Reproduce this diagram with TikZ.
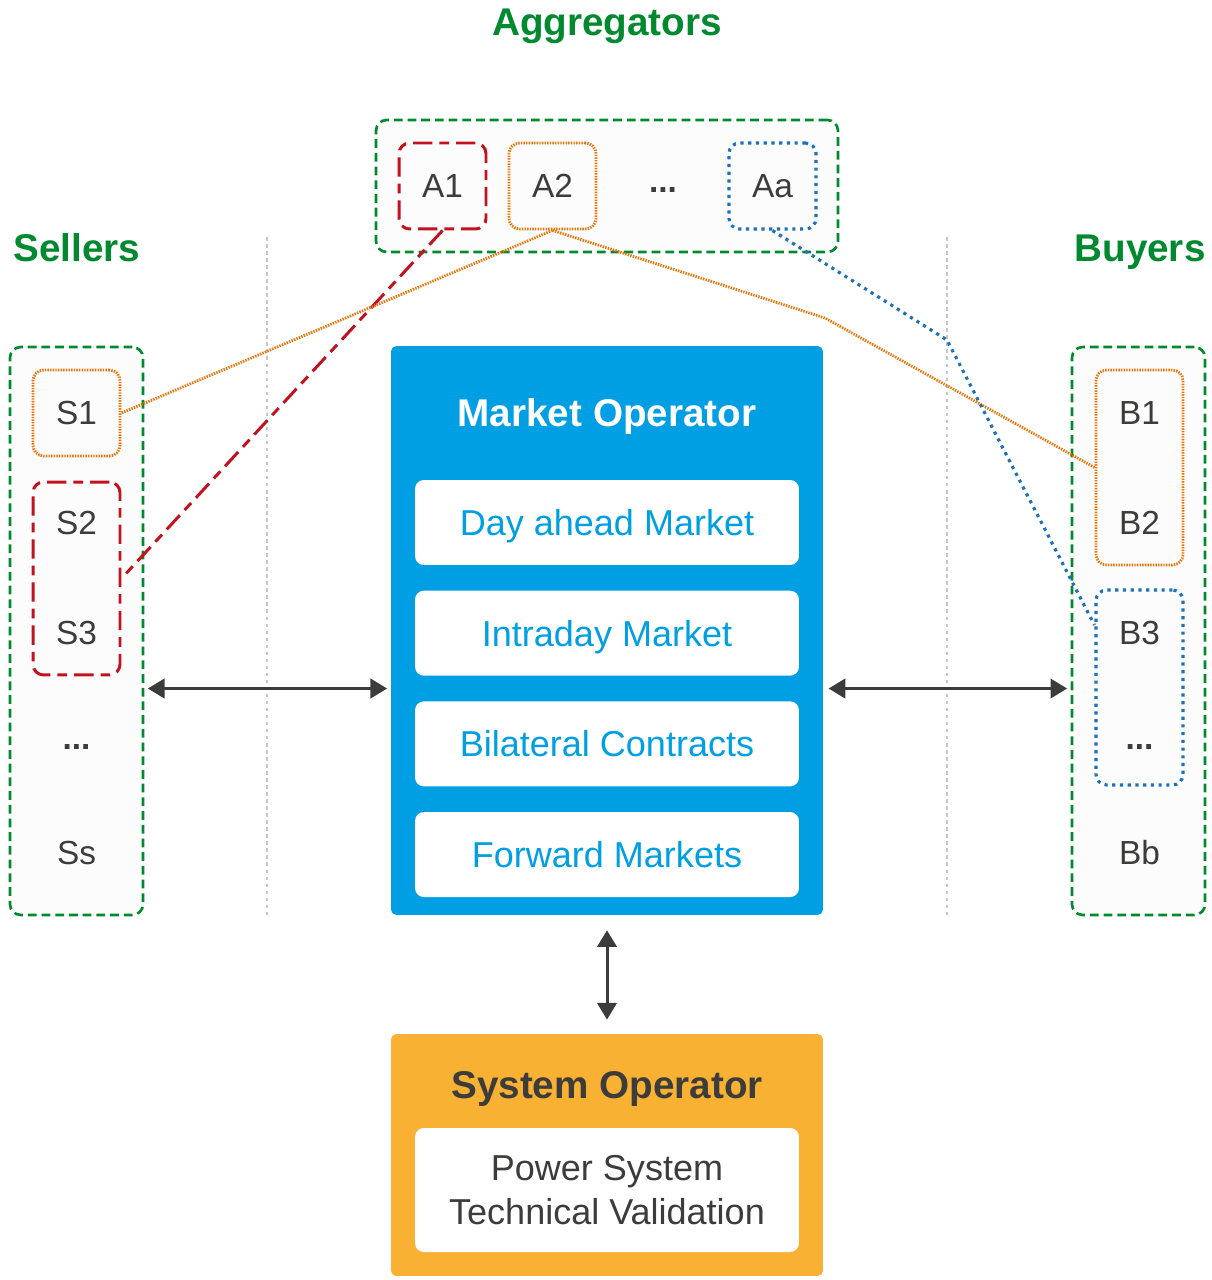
\documentclass[tikz,border=0pt]{standalone}
\usepackage{fontspec}
\setmainfont{Liberation Sans}
\usepackage{xcolor}
\usepackage{tikz}
\usetikzlibrary{
  arrows.meta,
  positioning,
  calc
}

\definecolor{partyGreen}{HTML}{00892F}
\definecolor{moBlue}{HTML}{009FE3}
\definecolor{soOrange}{HTML}{F8B133}
\definecolor{darkText}{HTML}{3C3C3B}
\definecolor{linkRed}{HTML}{C1121F}
\definecolor{linkOrange}{HTML}{EE7203}
\definecolor{linkBlue}{HTML}{1D71B8}

\begin{document}
\begin{tikzpicture}[
  x=0.02cm, y=-0.02cm,
  node distance=0.5cm,
  txt/.style={text=darkText, font=\fontsize{19}{23}\selectfont},
  heading/.style={text=partyGreen, font=\fontsize{22}{26}\selectfont\bfseries, text height=15.8pt, text depth=0pt},
  party/.style={draw=partyGreen, line width=1.5pt, dash pattern=on 5pt off 2.8pt, rounded corners=6pt, fill=gray!2},
  abox/.style={txt, minimum width=1.74cm, minimum height=1.72cm, rounded corners=6pt},
  redline/.style={draw=linkRed, line width=1.7pt, dash pattern=on 11pt off 4pt on 5.5pt off 4pt},
  orangeline/.style={draw=linkOrange, line width=1.6pt, dash pattern=on 0.8pt off 0.7pt},
  blueline/.style={draw=linkBlue, line width=1.8pt, dash pattern=on 1.8pt off 2.6pt},
  operator/.style={rectangle, rounded corners=3pt, minimum width=8.64cm},
  itembox/.style={rectangle, fill=white, rounded corners=5pt, minimum width=7.68cm, minimum height=1.7cm, text=moBlue, font=\fontsize{20.5}{25}\selectfont},
  mitem/.style={itembox, text height=14.7pt, text depth=0pt},
  optitle/.style={font=\fontsize{22}{26}\selectfont\bfseries, text height=15.8pt, text depth=0pt},
  guide/.style={draw=gray!45, line width=0.6pt, dash pattern=on 2pt off 2pt},
  biarrow/.style={draw=darkText, line width=1.7pt, {Triangle[length=9.5pt, width=11pt]}-{Triangle[length=9.5pt, width=11pt]}},
]
\useasboundingbox (0,0) rectangle (1212,1280);

\draw[guide] (267,237) -- (267,915);
\draw[guide] (947,237) -- (947,915);

% aggregators
\node[heading] (aggT) at (607,22) {Aggregators};
\node[party, minimum width=9.24cm, minimum height=2.64cm] (aggs) at (607,186) {};
\node[abox, redline] (A1) at (442.5,186) {A1};
\node[abox, orangeline] (A2) at (552.5,186) {A2};
\node[txt] (Adots) at (663,190) {\textbf{...}};
\node[abox, blueline] (Aa) at (772.5,186) {Aa};

% sellers
\node[heading] (selT) at (77,248) {Sellers};
\node[party, minimum width=2.66cm, minimum height=11.36cm] (sellers) at (76.5,631) {};
\node[abox, orangeline] (S1) at (76.5,413) {S1};
\node[abox, redline, minimum height=3.86cm] (S23) at (76.5,578.5) {};
\node[txt] (S2) at (76.5,523) {S2};
\node[txt] (S3) at (76.5,633) {S3};
\node[txt] (Sdots) at (76.5,747) {\textbf{...}};
\node[txt] (Ss) at (76.5,853) {Ss};

% buyers
\node[heading] (buyT) at (1140,248) {Buyers};
\node[party, minimum width=2.66cm, minimum height=11.36cm] (buyers) at (1138.5,631) {};
\node[abox, orangeline, minimum height=3.9cm] (B12) at (1139.5,467.5) {};
\node[abox, blueline, minimum height=3.9cm] (B34) at (1139.5,687.5) {};
\node[txt] (B1) at (1139.5,413) {B1};
\node[txt] (B2) at (1139.5,523) {B2};
\node[txt] (B3) at (1139.5,633) {B3};
\node[txt] (Bdots) at (1139.5,747) {\textbf{...}};
\node[txt] (Bb) at (1139.5,853) {Bb};

% market operator
\node[operator, fill=moBlue, minimum height=11.38cm] (MO) at (607,630.5) {};
\node[optitle, text=white] (MOT) at (607,413) {Market Operator};
\node[mitem] (dam) at (607,522.5) {Day ahead Market};
\node[mitem, below=of dam] (idm) {Intraday Market};
\node[mitem, below=of idm] (bil) {Bilateral Contracts};
\node[mitem, below=of bil] (fwd) {Forward Markets};

% system operator
\node[operator, fill=soOrange, minimum height=4.84cm] (SO) at (607,1155) {};
\node[optitle, text=darkText] (SOT) at (607,1085) {System Operator};
\node[itembox, minimum height=2.48cm, align=center, text=darkText] (psv) at (607,1190) {Power System\\Technical Validation};

\coordinate (mid) at ($(idm)!0.5!(bil)$);
\draw[biarrow, shorten <=2pt, shorten >=2pt] (sellers.east |- mid) -- (MO.west |- mid);
\draw[biarrow, shorten <=3pt, shorten >=2pt] (MO.east |- mid) -- (buyers.west |- mid);
\draw[biarrow, shorten <=8.5pt, shorten >=8pt] (MO.south) -- (SO.north);

\coordinate (bendO) at (825,318);
\coordinate (bendB) at (947,340);
\draw[redline] (A1.south) -- (S23.east);
\draw[orangeline] (A2.south) -- (S1.east);
\draw[orangeline] (A2.south) -- (bendO) -- (B12.west);
\draw[blueline] (Aa.south) -- (bendB) -- ([yshift=1.25cm]B34.west);
\end{tikzpicture}
\end{document}
